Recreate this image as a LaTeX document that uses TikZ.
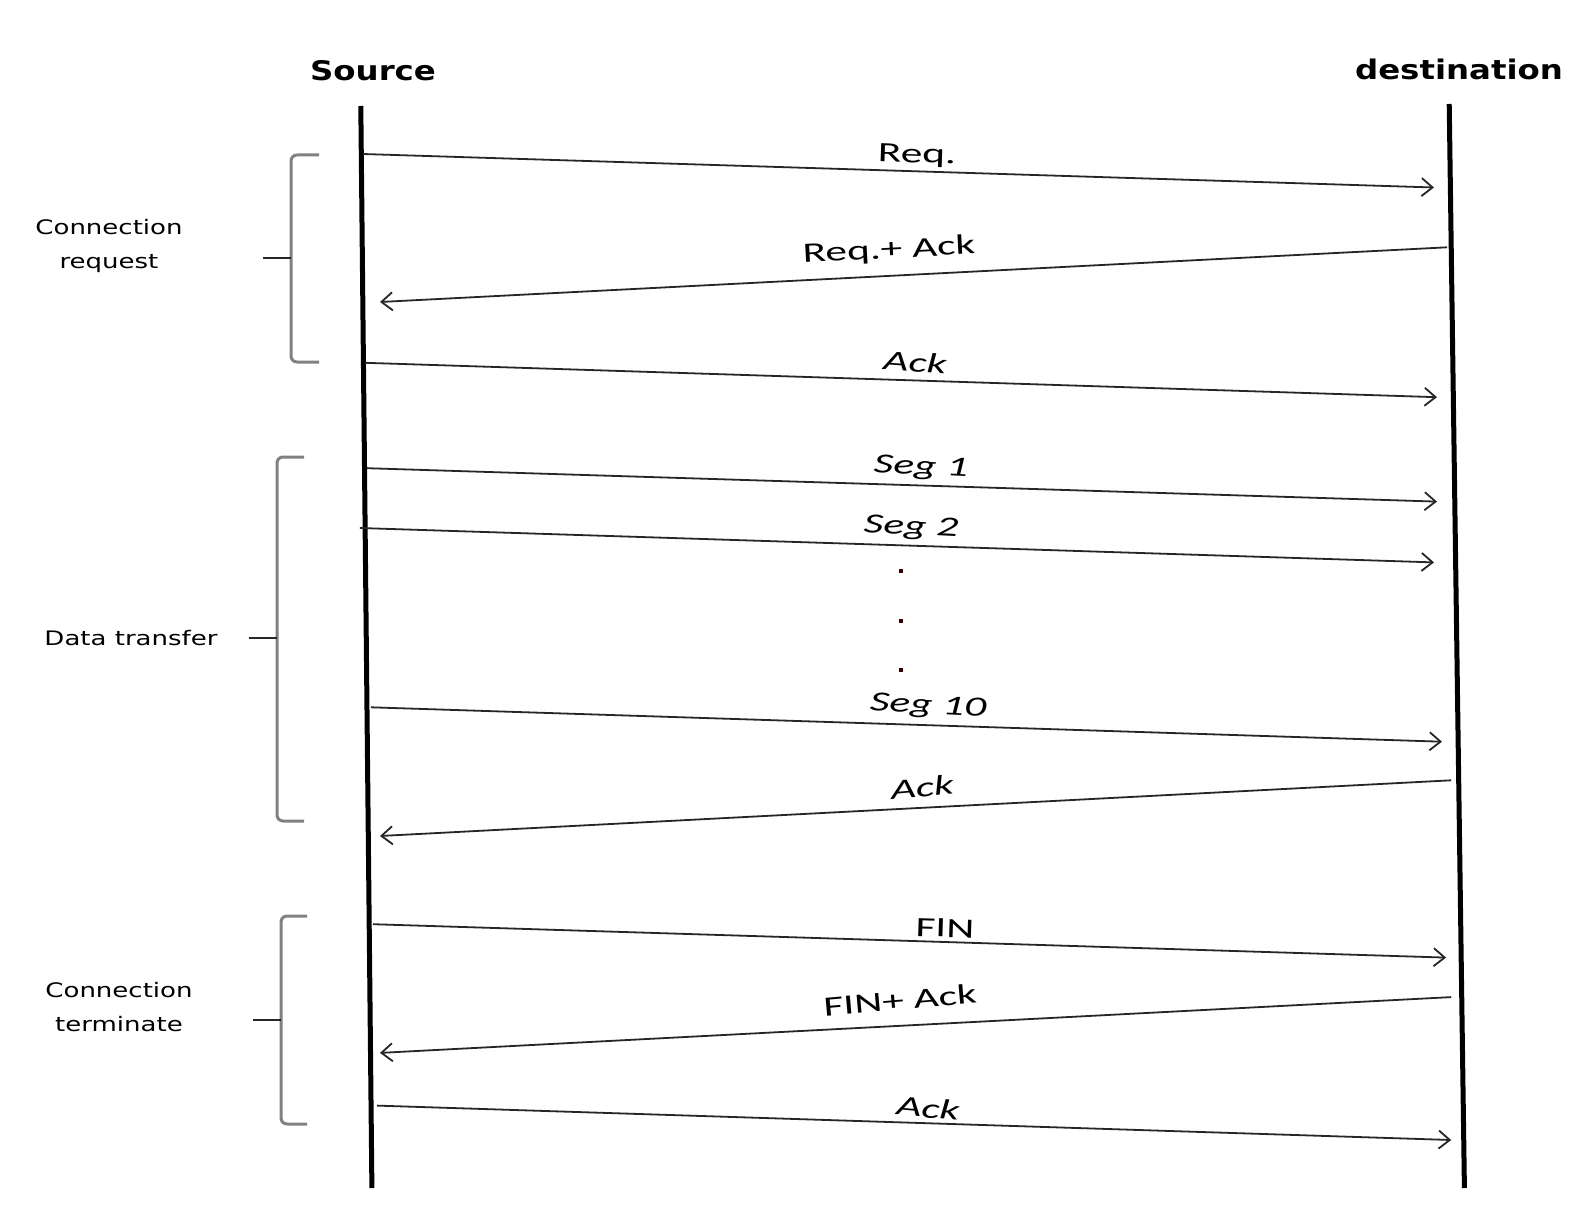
\documentclass[tikz,border=0pt]{standalone}
\usepackage{fontspec}
\usepackage{graphicx}
\usetikzlibrary{arrows.meta}
\newfontfamily\hdrfont{DejaVu Sans}
\newfontfamily\lblfont{Carlito}
\newcommand\hx[1]{\scalebox{1.2}[1]{#1}}
\newcommand\sx[1]{\scalebox{1.3}[1]{#1}}
\newcommand\ax[1]{\scalebox{1.55}[1]{#1}}
\tikzset{
  lifeline/.style={line width=5pt, black},
  msg/.style={line width=1.8pt, black!85, -{Straight Barb[length=11pt,width=18pt,line width=1.8pt]}},
  brace/.style={line width=3pt, black!50, rounded corners=6pt},
  bracetick/.style={line width=2.4pt, black!85},
  hdr/.style={font=\hdrfont\bfseries\fontsize{27}{32}\selectfont, inner sep=0pt},
  side/.style={font=\hdrfont\fontsize{20}{34}\selectfont, align=center, inner sep=0pt},
  mlbl/.style={font=\lblfont\fontsize{28}{32}\selectfont, inner sep=0pt},
  dotmark/.style={fill=black!80!red, minimum size=4.5pt, inner sep=0pt}
}
\begin{document}
\begin{tikzpicture}[x=1pt,y=-1pt]
\useasboundingbox (0,0) rectangle (1589,1222);
% headers
\node[hdr] (src) at (373,71) {\hx{Source}};
\node[hdr] (dst) at (1459,69) {\hx{destination}};
% lifelines
\coordinate (s0) at (360.8,106);
\coordinate (s1) at (371.9,1188);
\coordinate (d0) at (1449.2,104);
\coordinate (d1) at (1464.4,1188);
\draw[lifeline] (s0) -- (s1);
\draw[lifeline] (d0) -- (d1);
% message endpoints
\coordinate (a1s) at (362.8,154.0);  \coordinate (a1e) at (1434,187.5);
\coordinate (a2s) at (1447.1,247.3); \coordinate (a2e) at (380,302);
\coordinate (a3s) at (364.8,362.8);  \coordinate (a3e) at (1437,397.2);
\coordinate (a4s) at (366.9,468.2);  \coordinate (a4e) at (1437,501.6);
\coordinate (a5s) at (359.8,528);    \coordinate (a5e) at (1434,562.4);
\coordinate (a7s) at (370.9,707.3);  \coordinate (a7e) at (1442,741.7);
\coordinate (a8s) at (1451.2,780.3); \coordinate (a8e) at (380,836);
\coordinate (a9s) at (372.9,924.2);  \coordinate (a9e) at (1446.1,957.6);
\coordinate (a10s) at (1451.2,997.1); \coordinate (a10e) at (380,1052.9);
\coordinate (a11s) at (377,1105.6);  \coordinate (a11e) at (1451.2,1140);
\draw[msg] (a1s) -- (a1e);
\draw[msg] (a2s) -- (a2e);
\draw[msg] (a3s) -- (a3e);
\draw[msg] (a4s) -- (a4e);
\draw[msg] (a5s) -- (a5e);
\draw[msg] (a7s) -- (a7e);
\draw[msg] (a8s) -- (a8e);
\draw[msg] (a9s) -- (a9e);
\draw[msg] (a10s) -- (a10e);
\draw[msg] (a11s) -- (a11e);
% message labels
\node[mlbl, rotate=-1.8] (l1) at (917,156) {\ax{Req.}};
\node[mlbl, rotate=3] (l2) at (889,251) {\ax{Req.+ Ack}};
\node[mlbl, rotate=-4] (l3) at (915,362) {\ax{\itshape Ack}};
\node[mlbl, rotate=-3] (l4) at (921,468) {\ax{\itshape Seg 1}};
\node[mlbl, rotate=-3] (l5) at (911,528) {\ax{\itshape Seg 2}};
\node[mlbl, rotate=-3] (l7) at (928,707) {\ax{\itshape Seg 10}};
\node[mlbl, rotate=5] (l8) at (922,787) {\ax{\itshape Ack}};
\node[mlbl, rotate=-1.8] (l9) at (945,928) {\ax{FIN}};
\node[mlbl, rotate=5] (l10) at (900,1000) {\ax{FIN+ Ack}};
\node[mlbl, rotate=-5] (l11) at (928,1108) {\ax{\itshape Ack}};
% dots
\node[dotmark] (dt1) at (901,571) {};
\node[dotmark] (dt2) at (901,621) {};
\node[dotmark] (dt3) at (901,670) {};
% braces
\draw[brace] (319,155) -| (291,258) |- (319,362);
\draw[bracetick] (263,258) -- (291,258);
\draw[brace] (304,457) -| (277,638) |- (304,821);
\draw[bracetick] (249,638) -- (277,638);
\draw[brace] (307,916) -| (281,1020) |- (307,1124);
\draw[bracetick] (253,1020) -- (281,1020);
% side labels
\node[side] (g1) at (109,246) {\sx{Connection}\\\sx{request}};
\node[side] (g2) at (131,638) {\sx{Data transfer}};
\node[side] (g3) at (119,1007) {\sx{Connection}\\\sx{terminate}};
\end{tikzpicture}
\end{document}
